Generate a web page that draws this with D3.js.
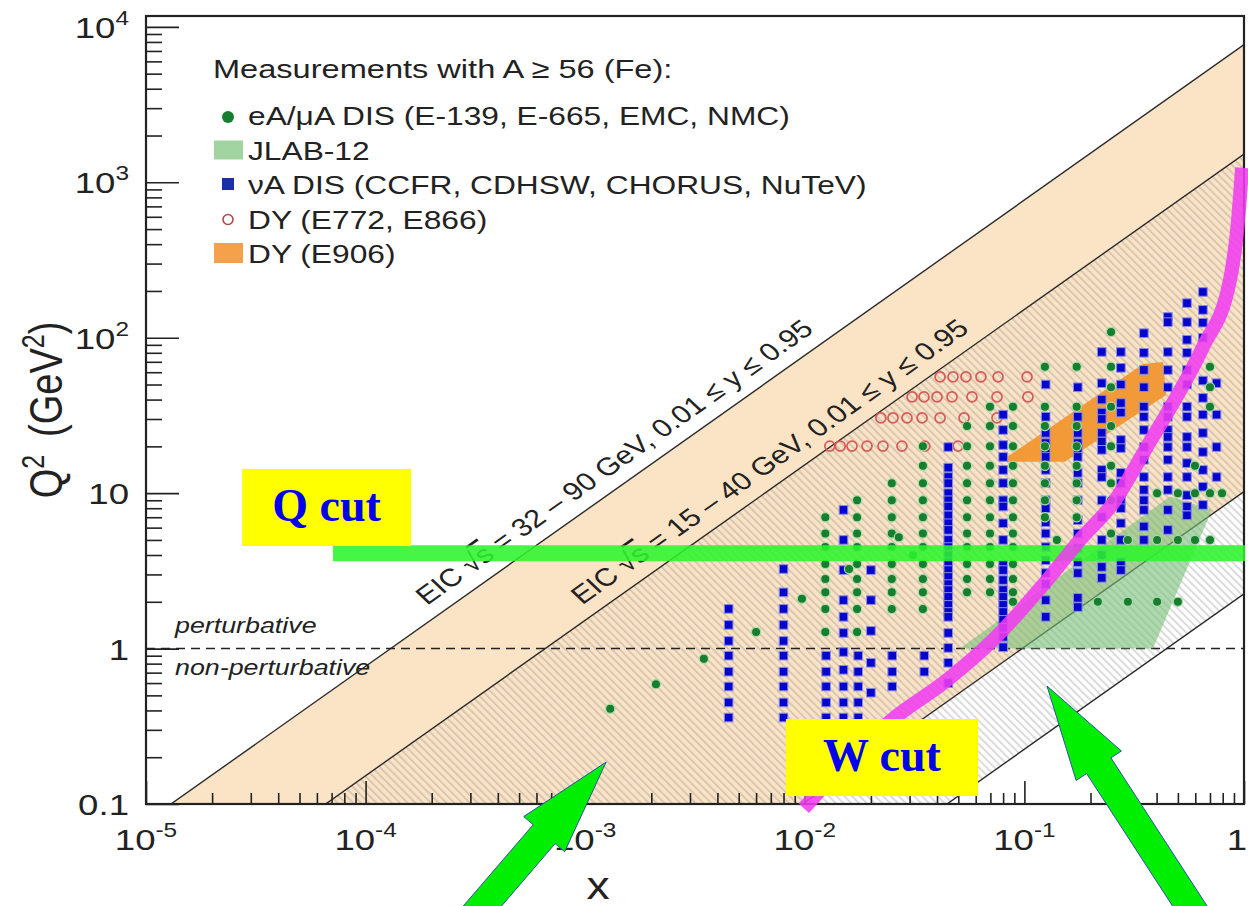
<!DOCTYPE html>
<html>
<head>
<meta charset="utf-8">
<script src="https://cdn.jsdelivr.net/npm/d3@7"></script>
<style>
  body { margin: 0; background: #fff; }
  svg { display: block; font-family: "Liberation Sans", Arial, sans-serif; }
</style>
</head>
<body>
<svg id="chart" width="1248" height="906"></svg>
<script>
// ---- values ----
const eicSqrtS = [[32, 90], [15, 40]];          // GeV, the two EIC bands
const eicY = [0.01, 0.95];                       // inelasticity range
const eicLabels = [["EIC √", "s", " = 32 – 90 GeV, 0.01 ≤ y ≤ 0.95"],
                   ["EIC √", "s", " = 15 – 40 GeV, 0.01 ≤ y ≤ 0.95"]];
const eicLabelX = [2.07e-4, 1.055e-3];

const xTicks = [1e-5, 1e-4, 1e-3, 1e-2, 1e-1, 1];
const xTickLabels = [["10", "-5"], ["10", "-4"], ["10", "-3"], ["10", "-2"], ["10", "-1"], ["1", null]];
const yTicks = [0.1, 1, 10, 100, 1000, 10000];
const yTickLabels = [["0.1", null], ["1", null], ["10", null], ["10", "2"], ["10", "3"], ["10", "4"]];

// eA / muA DIS (E-139, E-665, EMC, NMC): [x, [Q2 ...]]
const eaLoose = [[0.0013, 0.41], [0.0021, 0.59], [0.00347, 0.86], [0.0060, 1.28], [0.0097, 2.09],
                 [0.0159, 3.25], [0.0268, 5.2], [0.0311, 4.0]];
const eaColumns = [
  [0.0124, [7.0, 5.5, 4.5, 3.5, 2.8, 2.3, 1.8, 1.28]],
  [0.0173, [9.0, 7.0, 5.5, 4.5, 3.5, 2.8, 2.3, 1.8, 1.28]],
  [0.0249, [11.6, 9.0, 7.0, 5.5, 4.5, 3.5, 2.8, 2.3, 1.8]],
  [0.0345, [20, 15, 11.6, 9.0, 7.0, 5.5, 4.5, 3.5, 2.8, 2.3, 1.8]],
  [0.0548, [27, 20, 15, 11.6, 9.0, 7.0, 5.5, 4.5, 3.5, 2.8, 2.3]],
  [0.0697, [36, 27, 20, 15, 11.6, 9.0, 7.0, 5.5, 4.5, 3.5, 2.8, 2.3]],
  [0.0887, [36, 27, 20, 15, 11.6, 9.0, 7.0, 5.5, 4.5, 3.5, 2.8, 2.3, 2.0]],
  [0.124, [65, 36, 27, 20, 15, 11.6, 9.0, 7.0]],
  [0.1406, [5.0]],
  [0.173, [65, 36, 27, 20, 15, 11.6, 9.0, 7.0]],
  [0.216, [2.0]],
  [0.248, [109, 65, 48, 36, 27, 20, 15, 11.6, 9.0, 5.5]],
  [0.296, [5.0, 2.0]],
  [0.402, [10, 5.0, 2.0]],
  [0.50, [10, 5.0, 2.0]],
  [0.598, [15, 10, 5.0]],
  [0.70, [65, 48, 36, 10, 5.0]],
  [0.794, [10]]
];

// nuA DIS (CCFR, CDHSW, CHORUS, NuTeV): [x, [Q2 ...]]
const nuColumns = [
  [0.0045, [1.8, 1.42, 1.12, 0.9, 0.71, 0.57, 0.45, 0.36]],
  [0.008, [3.25, 2.3, 1.8, 1.42, 1.12, 0.9, 0.71, 0.57, 0.45, 0.36]],
  [0.0125, [0.9, 0.71, 0.57, 0.45, 0.36]],
  [0.015, [7.8, 5.0, 3.2, 2.05, 1.6, 1.26, 0.95, 0.73, 0.57, 0.45, 0.36]],
  [0.0175, [0.9, 0.71, 0.57, 0.45, 0.36]],
  [0.02, [3.2, 2.05, 1.3, 0.81, 0.52]],
  [0.025, [0.9, 0.71, 0.57]],
  [0.035, [0.9, 0.71]],
  [0.045, [19.8, 14.6, 12.7, 11.6, 10, 9.0, 8.2, 7.2, 6.4, 5.8, 5.0, 4.5, 4.0, 3.6, 3.2, 2.89, 2.6,
           2.38, 2.15, 1.91, 1.72, 1.6, 1.26, 1.01, 0.81, 0.60]],
  [0.08, [32, 25.5, 20.4, 17.1, 14.1, 11.6, 9.0, 8.2, 6.4, 5.0, 3.45, 3.2, 2.76, 2.38, 2.15, 1.91,
          1.72, 1.53, 1.36, 1.19, 1.02]],
  [0.125, [50, 31, 24.4, 21, 19, 17.1, 14.1, 11.6, 9.0, 8.0, 6.5, 5.5, 4.5, 3.7, 3.06, 2.6, 2.05, 1.6]],
  [0.175, [48, 31, 24.4, 21, 19, 17.1, 13.5, 11.6, 9.0, 6.7, 5.5, 4.4, 3.6, 3.06, 2.12, 1.85]],
  [0.225, [81, 51, 40, 33, 30, 24.4, 21.5, 19, 14.1, 12.7, 9.0, 7.0, 5.0, 4.0, 3.35, 2.85]],
  [0.275, [81, 64, 50, 38, 33, 22, 19.5, 13.5, 11.6, 9.0, 8.0, 6.4, 5.0, 3.6, 3.2]],
  [0.35, [107, 80, 62, 48, 36, 31, 25.5, 19.8, 16.4, 12.7, 10.5, 9.0, 7.8, 6.1, 5.0]],
  [0.45, [136, 126, 81, 62, 48, 36, 31, 25.5, 23, 19.8, 16.4, 12.7, 10.5, 7.8, 5.8]],
  [0.55, [167, 126, 97, 80, 62, 50, 36, 31, 23, 19.8, 15.6, 12.7, 9.7, 8.2, 7.2]],
  [0.65, [197, 151, 125, 100, 53, 41, 32, 24.4, 18.4, 14.1, 11, 8.4]],
  [0.75, [51, 32, 19.8, 12.7]]
];

// DY (E772, E866): rows of [Q2, [x ...]]
const dyRows = [
  [20.1, [0.0130, 0.0145, 0.0164, 0.0192, 0.0227, 0.0277, 0.0352, 0.0499]],
  [30.5, [0.0222, 0.0252, 0.0292, 0.0342, 0.0413, 0.0531, 0.075]],
  [41.6, [0.0308, 0.0349, 0.040, 0.0468, 0.0577, 0.075, 0.1038]],
  [56, [0.0413, 0.0473, 0.0542, 0.0634, 0.0759, 0.1028]]
];

// outlines [x, Q2]
const e906Outline = [[0.0774, 15.9], [0.347, 67.8], [0.428, 69.8], [0.442, 42.8], [0.153, 15.9]];
const jlabOutline = [[0.0509, 1.0], [0.46, 9.5], [0.714, 7.8], [0.385, 1.0]];

// overlay annotations
const qCutQ2 = 4.1;
const qCutRange = [7.1e-5, 1.012];
const wCutCurve = [[0.0099, 0.094], [0.0249, 0.348], [0.0445, 0.628], [0.072, 1.135], [0.127, 2.76],
                   [0.179, 5.0], [0.253, 8.6], [0.361, 19.8], [0.475, 38], [0.650, 87], [0.863, 235],
                   [0.94, 573], [0.98, 1240]];
const qCutBox = [[2.74e-5, 14.3], [1.61e-4, 4.57]];
const wCutBox = [[0.0082, 0.352], [0.0615, 0.1125]];
const arrows = [
  {tip: [1.245e-3, 0.186], tail: [2.09e-4, 0.0099]},
  {tip: [0.1268, 0.574], tail: [0.819, 0.0099]}
];

const legendItems = ["eA/μA DIS (E-139, E-665, EMC, NMC)", "JLAB-12", "νA DIS (CCFR, CDHSW, CHORUS, NuTeV)",
                     "DY (E772, E866)", "DY (E906)"];

// ---- drawing ----
const svg = d3.select("#chart");
const W = 1248;
const M = {left: 146, right: 1244, top: 16, bottom: 804};
const SX = 1.22;          // the source figure was stretched sideways

const x = d3.scaleLog().domain([1e-5, 1]).range([M.left, M.right]);
const y = d3.scaleLog().domain([0.1, Math.pow(10, 4.07)]).range([M.bottom, M.top]);

const defs = svg.append("defs");
defs.append("clipPath").attr("id", "clip").append("rect")
  .attr("x", M.left).attr("y", M.top)
  .attr("width", M.right - M.left).attr("height", M.bottom - M.top);
const hatch = defs.append("pattern").attr("id", "hatch")
  .attr("patternUnits", "userSpaceOnUse")
  .attr("width", 5.5).attr("height", 5.5)
  .attr("patternTransform", "rotate(-45)");
hatch.append("rect").attr("width", 2).attr("height", 5.5)
  .attr("fill", "#8a8a8a").attr("fill-opacity", 0.3);

const plot = svg.append("g").attr("clip-path", "url(#clip)");
const line = d3.line().x(d => x(d[0])).y(d => y(d[1]));
const ends = [1e-6, 2];
const qLine = k => ends.map(v => [v, k * v]);          // Q2 = k x
const kHi = s => eicY[1] * s[1] * s[1];
const kLo = s => eicY[0] * s[0] * s[0];
const band = s => qLine(kHi(s)).concat(qLine(kLo(s)).reverse());

plot.append("path").attr("d", line(band(eicSqrtS[0])) + "Z").attr("fill", "#fbe3c5");
plot.append("path").attr("d", line(band(eicSqrtS[1])) + "Z").attr("fill", "url(#hatch)");

eicSqrtS.forEach(s => {
  [kHi(s), kLo(s)].forEach(k => {
    plot.append("path").attr("d", line(qLine(k)))
      .attr("fill", "none").attr("stroke", "#2a2a2a").attr("stroke-width", 1.4);
  });
});

// labels along the upper edges
const ang = Math.atan2(y(1) - y(10), x(10) - x(1));
const rotPre = Math.atan(Math.tan(ang) * SX) * 180 / Math.PI;
eicLabels.forEach((parts, i) => {
  const xv = eicLabelX[i];
  const k = kHi(eicSqrtS[i]);
  const off = 14;
  const px = x(xv) - off * Math.sin(ang);
  const py = y(k * xv) - off * Math.cos(ang);
  const t = svg.append("text")
    .attr("transform", `translate(${px},${py}) scale(${SX},1) rotate(${-rotPre})`)
    .attr("font-size", 25).attr("fill", "#222");
  t.append("tspan").text(parts[0]);
  t.append("tspan").attr("text-decoration", "overline").text(parts[1]);
  t.append("tspan").text(parts[2]);
});

// Q2 = 1 boundary
plot.append("line")
  .attr("x1", M.left).attr("x2", M.right).attr("y1", y(1)).attr("y2", y(1))
  .attr("stroke", "#222").attr("stroke-width", 1.5).attr("stroke-dasharray", "9,6");
svg.append("text").attr("transform", `translate(${M.left + 29},${y(1) - 16}) scale(${SX},1)`)
  .attr("font-size", 22).attr("font-style", "italic").attr("fill", "#222").text("perturbative");
svg.append("text").attr("transform", `translate(${M.left + 29},${y(1) + 26}) scale(${SX},1)`)
  .attr("font-size", 22).attr("font-style", "italic").attr("fill", "#222").text("non-perturbative");

// JLAB-12 and E906 regions
plot.append("path").attr("d", line(jlabOutline) + "Z")
  .attr("fill", "#78c078").attr("fill-opacity", 0.6);
plot.append("path").attr("d", line(e906Outline) + "Z").attr("fill", "#f39a38");

// DY open circles
const dyPts = dyRows.flatMap(([q, xs]) => xs.map(v => [v, q]));
plot.append("g").selectAll("circle").data(dyPts).join("circle")
  .attr("cx", d => x(d[0])).attr("cy", d => y(d[1])).attr("r", 5)
  .attr("fill", "none").attr("stroke", "#d65a5a").attr("stroke-width", 1.7);

// nu DIS squares
const nuPts = nuColumns.flatMap(([xv, qs]) => qs.map(q => [xv, q]));
plot.append("g").selectAll("rect").data(nuPts).join("rect")
  .attr("x", d => x(d[0]) - 4.3).attr("y", d => y(d[1]) - 4.3)
  .attr("width", 8.6).attr("height", 8.6)
  .attr("fill", "#0505cc").attr("stroke", "#8a8ae6").attr("stroke-width", 1);

// eA DIS dots
const eaPts = eaColumns.flatMap(([xv, qs]) => qs.map(q => [xv, q])).concat(eaLoose);
plot.append("g").selectAll("circle").data(eaPts).join("circle")
  .attr("cx", d => x(d[0])).attr("cy", d => y(d[1])).attr("r", 4.6)
  .attr("fill", "#177d2f").attr("stroke", "#a6dca6").attr("stroke-width", 1.2);

// axes
const xMinor = [], yMinor = [];
xTicks.slice(0, -1).forEach(d => { for (let k = 2; k < 10; k++) xMinor.push(k * d); });
yTicks.slice(0, -1).forEach(d => { for (let k = 2; k < 10; k++) yMinor.push(k * d); });

const axisStyle = g => {
  g.select(".domain").remove();
  g.selectAll("line").attr("stroke", "#222").attr("stroke-width", 1.6);
};
svg.append("g").attr("transform", `translate(0,${M.bottom})`)
  .call(d3.axisBottom(x).tickValues(xTicks).tickSize(-23).tickFormat("")).call(axisStyle);
svg.append("g").attr("transform", `translate(0,${M.bottom})`)
  .call(d3.axisBottom(x).tickValues(xMinor).tickSize(-11).tickFormat("")).call(axisStyle);
svg.append("g").attr("transform", `translate(${M.left},0)`)
  .call(d3.axisLeft(y).tickValues(yTicks).tickSize(-33).tickFormat("")).call(axisStyle);
svg.append("g").attr("transform", `translate(${M.left},0)`)
  .call(d3.axisLeft(y).tickValues(yMinor).tickSize(-16).tickFormat("")).call(axisStyle);

svg.append("rect")
  .attr("x", M.left).attr("y", M.top)
  .attr("width", M.right - M.left).attr("height", M.bottom - M.top)
  .attr("fill", "none").attr("stroke", "#222").attr("stroke-width", 2.2);

function powLabel(base, exp, px, py, anchor) {
  const t = svg.append("text")
    .attr("transform", `translate(${px},${py}) scale(${SX},1)`)
    .attr("text-anchor", anchor).attr("font-size", 30).attr("fill", "#222");
  t.append("tspan").text(base);
  if (exp) t.append("tspan").attr("dy", -13).attr("font-size", 20).text(exp);
}
xTicks.forEach((v, i) => {
  const last = i === xTicks.length - 1;     // "1" sits against the page edge
  powLabel(xTickLabels[i][0], xTickLabels[i][1], last ? W - 1 : x(v), 850, last ? "end" : "middle");
});
yTicks.forEach((v, i) => powLabel(yTickLabels[i][0], yTickLabels[i][1], 129, y(v) + 11, "end"));

svg.append("text").attr("transform", `translate(${(M.left + M.right) / 2 - 97},899) scale(${SX},1)`)
  .attr("text-anchor", "middle").attr("font-size", 38).attr("fill", "#222").text("x");
const yt = svg.append("text")
  .attr("transform", `translate(62,410) scale(${SX},1) rotate(-90)`)
  .attr("text-anchor", "middle").attr("font-size", 38).attr("fill", "#222");
yt.append("tspan").text("Q");
yt.append("tspan").attr("dy", -15).attr("font-size", 25).text("2");
yt.append("tspan").attr("dy", 15).attr("dx", 18).text("(GeV");
yt.append("tspan").attr("dy", -15).attr("font-size", 25).text("2");
yt.append("tspan").attr("dy", 15).text(")");

// legend
const lg = svg.append("g");
lg.append("text").attr("transform", `translate(213,78) scale(${SX},1)`)
  .attr("font-size", 26.7).attr("fill", "#222").text("Measurements with A ≥ 56 (Fe):");
const rowY = [125, 159.5, 194, 228.5, 263];
legendItems.forEach((lab, i) => {
  lg.append("text").attr("transform", `translate(248,${rowY[i]}) scale(${SX},1)`)
    .attr("font-size", 26).attr("fill", "#222").text(lab);
});
lg.append("circle").attr("cx", 228).attr("cy", rowY[0] - 8).attr("r", 6).attr("fill", "#177d2f");
lg.append("rect").attr("x", 214).attr("y", rowY[1] - 19).attr("width", 29).attr("height", 19)
  .attr("fill", "#a2d4a2");
lg.append("rect").attr("x", 222).attr("y", rowY[2] - 16).attr("width", 12).attr("height", 12)
  .attr("fill", "#1a2fa8");
lg.append("circle").attr("cx", 228).attr("cy", rowY[3] - 9).attr("r", 5)
  .attr("fill", "none").attr("stroke", "#b04848").attr("stroke-width", 1.6);
lg.append("rect").attr("x", 214).attr("y", rowY[4] - 20).attr("width", 29).attr("height", 20)
  .attr("fill", "#f5a04a");

// ---- overlay: Q cut, W cut, arrows ----
svg.append("line")
  .attr("x1", x(qCutRange[0])).attr("x2", x(qCutRange[1]))
  .attr("y1", y(qCutQ2)).attr("y2", y(qCutQ2))
  .attr("stroke", "#2cf52c").attr("stroke-opacity", 0.88).attr("stroke-width", 16);

svg.append("path").attr("d", d3.line().x(d => x(d[0])).y(d => y(d[1])).curve(d3.curveMonotoneX)(wCutCurve))
  .attr("fill", "none").attr("stroke", "#f03cf0").attr("stroke-opacity", 0.88).attr("stroke-width", 14);

function cutBox(box, label) {
  const x0 = x(box[0][0]), x1 = x(box[1][0]), y0 = y(box[0][1]), y1 = y(box[1][1]);
  svg.append("rect").attr("x", x0).attr("y", y0).attr("width", x1 - x0).attr("height", y1 - y0)
    .attr("fill", "#ffff00");
  svg.append("text").attr("x", (x0 + x1) / 2).attr("y", y0 + 52)
    .attr("text-anchor", "middle").attr("font-family", "'Liberation Serif', 'Times New Roman', serif")
    .attr("font-weight", "bold").attr("font-size", 46).attr("fill", "#0000ee").text(label);
}
cutBox(qCutBox, "Q cut");
cutBox(wCutBox, "W cut");

arrows.forEach(a => {
  const tx = x(a.tip[0]), ty = y(a.tip[1]);
  const bx = x(a.tail[0]), by = y(a.tail[1]);
  const len = Math.hypot(bx - tx, by - ty);
  const ux = (bx - tx) / len, uy = (by - ty) / len;   // tip -> tail
  const nx = -uy, ny = ux;
  const head = 95, hw = 27, sw = 14.5;
  const p = (along, side) => [tx + ux * along + nx * side, ty + uy * along + ny * side];
  const pts = [p(0, 0), p(head, hw), p(head, sw), p(len, sw), p(len, -sw), p(head, -sw), p(head, -hw)];
  svg.append("path").attr("d", "M" + pts.map(q => q.join(",")).join("L") + "Z")
    .attr("fill", "#00ee00").attr("stroke", "#3050a8").attr("stroke-width", 1);
});
</script>
</body>
</html>
